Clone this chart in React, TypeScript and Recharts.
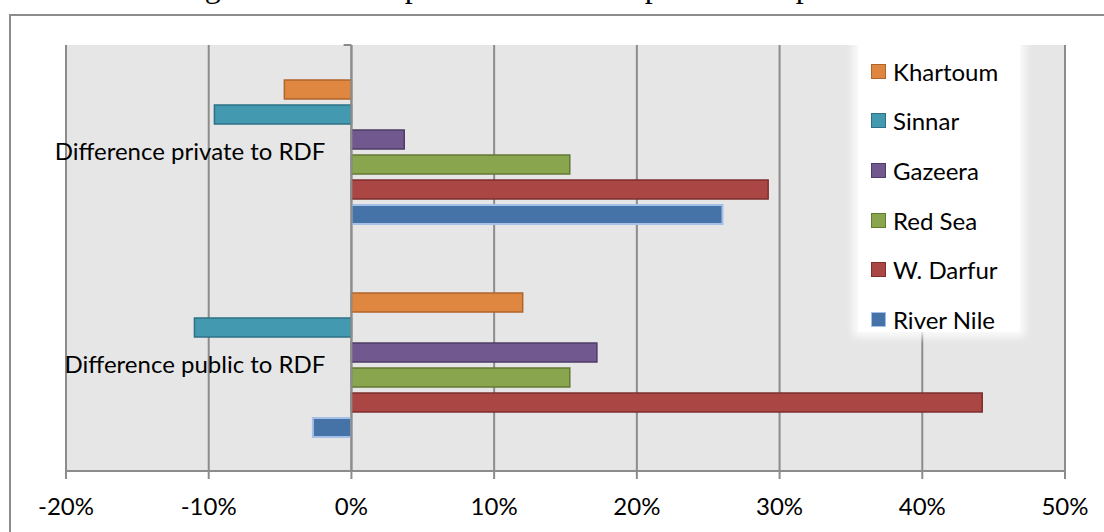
import { BarChart, Bar, XAxis, YAxis, CartesianGrid, Legend, ReferenceLine, ReferenceDot } from "recharts";

const categories = ["Difference private to RDF", "Difference public to RDF"];
const regions = ["Khartoum", "Sinnar", "Gazeera", "Red Sea", "W. Darfur", "River Nile"];
const khartoum = [-4.7, 12.0];
const sinnar = [-9.6, -11.0];
const gazeera = [3.7, 17.2];
const redSea = [15.3, 15.3];
const wDarfur = [29.2, 44.2];
const riverNile = [26.0, -2.7];
const xTicks = [-20, -10, 0, 10, 20, 30, 40, 50];
const categoryEdges = [0, 1, 2];

const fills = ["#DF8740", "#4299B0", "#71588F", "#89A54E", "#AA4644", "#4572A7"];
const strokes = ["#B0652B", "#2E7185", "#4E3D66", "#637A35", "#7E2F2D", "#A4C0E8"];
const seriesValues = [khartoum, sinnar, gazeera, redSea, wDarfur, riverNile];

const data = categories.map((category, i) => {
  const row: Record<string, string | number> = { category };
  regions.forEach((r, j) => {
    row[r] = seriesValues[j][i];
  });
  return row;
});

const font = "Lato, 'Liberation Sans', sans-serif";
const axisGray = "#8c8c8c";

const renderLegend = () => (
  <div
    style={{
      position: "relative",
      width: 162,
      height: 287,
      background: "#fff",
      boxShadow: "0 0 8px 5px rgba(255,255,255,0.85)",
      fontFamily: font,
      fontSize: 24,
      color: "#000",
    }}
  >
    {regions.map((r, i) => (
      <div
        key={r}
        style={{
          position: "absolute",
          left: 13,
          top: 1 + i * 49.7,
          height: 50,
          display: "flex",
          alignItems: "center",
          whiteSpace: "nowrap",
        }}
      >
        <span
          style={{
            display: "inline-block",
            width: 13,
            height: 13,
            background: fills[i],
            border: `1.5px solid ${strokes[i]}`,
            marginRight: 7,
          }}
        />
        {r}
      </div>
    ))}
  </div>
);

export default function App() {
  return (
    <div style={{ position: "absolute", left: 0, top: 0, width: 1104, height: 532, overflow: "hidden", background: "#fff" }}>
      <div
        style={{
          position: "absolute",
          left: 178,
          top: -30,
          fontFamily: "'Liberation Serif', 'Times New Roman', serif",
          fontSize: 32,
          lineHeight: 1,
          whiteSpace: "nowrap",
          color: "#000",
        }}
      >
        Figure 4.14: Comparison of RDF to private and public sector
      </div>
      <div
        style={{
          position: "absolute",
          left: 9,
          top: 14,
          width: 1200,
          height: 700,
          borderLeft: `2px solid ${axisGray}`,
          borderTop: `2px solid ${axisGray}`,
        }}
      />
      <div style={{ position: "absolute", left: 0, top: 0 }}>
        <BarChart
          width={1104}
          height={532}
          data={data}
          layout="vertical"
          margin={{ top: 45, right: 39, bottom: 1, left: 66 }}
          barCategoryGap={35}
          barGap={6}
        >
          <CartesianGrid horizontal={false} stroke={axisGray} strokeWidth={2} fill="#e6e6e6" fillOpacity={1} />
          <XAxis
            type="number"
            domain={[-20, 50]}
            ticks={xTicks}
            tickFormatter={(v: number) => `${v}%`}
            height={60}
            stroke={axisGray}
            strokeWidth={2}
            tickSize={8}
            tickMargin={19}
            tick={{ fill: "#000", fontSize: 24, fontFamily: font }}
          />
          <YAxis type="category" dataKey="category" hide width={0} />
          <YAxis yAxisId="edges" type="number" domain={[0, 2]} hide width={0} />
          {regions.map((r, i) => (
            <Bar
              key={r}
              dataKey={r}
              fill={fills[i]}
              stroke={strokes[i]}
              strokeWidth={i === 5 ? 2 : 1.5}
              isAnimationActive={false}
            />
          ))}
          <ReferenceLine x={0} stroke={axisGray} strokeWidth={2} />
          {categoryEdges.map((e) => (
            <ReferenceLine
              key={e}
              yAxisId="edges"
              segment={[
                { x: -0.55, y: e },
                { x: 0, y: e },
              ]}
              stroke={axisGray}
              strokeWidth={2}
            />
          ))}
          {categories.map((c) => (
            <ReferenceDot
              key={c}
              x={0}
              y={c}
              r={0}
              fill="none"
              stroke="none"
              label={{ value: c, position: "left", offset: 26, fill: "#000", fontSize: 24, fontFamily: font }}
            />
          ))}
          <Legend
            layout="vertical"
            align="center"
            verticalAlign="middle"
            wrapperStyle={{ position: "absolute", left: 858, top: 45, width: 162, height: 287 }}
            content={renderLegend}
          />
        </BarChart>
      </div>
    </div>
  );
}
